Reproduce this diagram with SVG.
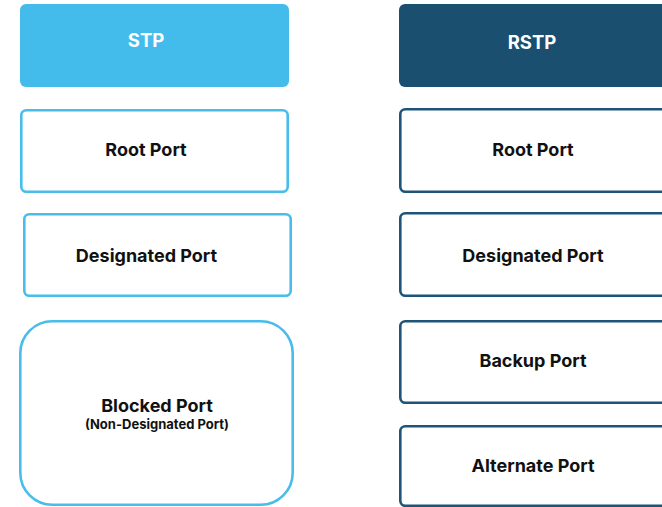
<svg xmlns="http://www.w3.org/2000/svg" width="662" height="507" viewBox="0 0 662 507">
  <style>
    .stp-head { fill: #43bcec; }
    .rstp-head { fill: #1a4f6f; }
    .stp-box { fill: #ffffff; stroke: #48bdea; stroke-width: 2.6; }
    .rstp-box { fill: #ffffff; stroke: #1d5477; stroke-width: 2.6; }
    text { font-family: Inter, "Liberation Sans", sans-serif; font-weight: 700; text-anchor: middle; }
    .head { fill: #ffffff; font-size: 18.5px; }
    .lbl { fill: #111111; font-size: 18px; }
    .sub { fill: #111111; font-size: 13px; }
  </style>
  <rect width="662" height="507" fill="#ffffff"/>
  <g id="stp">
    <rect class="stp-head" x="20" y="4" width="269" height="83" rx="6"/>
    <text class="head" x="146" y="47">STP</text>
  </g>
  <g id="stp-root">
    <rect class="stp-box" x="21.3" y="110.3" width="266.4" height="81.4" rx="5"/>
    <text class="lbl" x="146" y="156">Root Port</text>
  </g>
  <g id="stp-designated">
    <rect class="stp-box" x="24.3" y="214.3" width="266.4" height="81.4" rx="5"/>
    <text class="lbl" x="146.5" y="262">Designated Port</text>
  </g>
  <g id="stp-blocked">
    <rect class="stp-box" x="20.3" y="321.3" width="272.4" height="183.4" rx="32"/>
    <text class="lbl" x="157" y="412">Blocked Port</text>
    <text class="sub" x="157" y="429">(Non-Designated Port)</text>
  </g>
  <g id="rstp">
    <rect class="rstp-head" x="399" y="4" width="280" height="83" rx="6"/>
    <text class="head" x="532" y="49">RSTP</text>
  </g>
  <g id="rstp-root">
    <rect class="rstp-box" x="400.3" y="109.3" width="280" height="82.4" rx="5"/>
    <text class="lbl" x="533" y="156">Root Port</text>
  </g>
  <g id="rstp-designated">
    <rect class="rstp-box" x="400.3" y="213.3" width="280" height="82.4" rx="5"/>
    <text class="lbl" x="533" y="262">Designated Port</text>
  </g>
  <g id="rstp-backup">
    <rect class="rstp-box" x="400.3" y="321.3" width="280" height="81.4" rx="5"/>
    <text class="lbl" x="533" y="367">Backup Port</text>
  </g>
  <g id="rstp-alternate">
    <rect class="rstp-box" x="400.3" y="426.3" width="280" height="79.4" rx="5"/>
    <text class="lbl" x="533" y="472">Alternate Port</text>
  </g>
  <g id="connectors"/>
</svg>
